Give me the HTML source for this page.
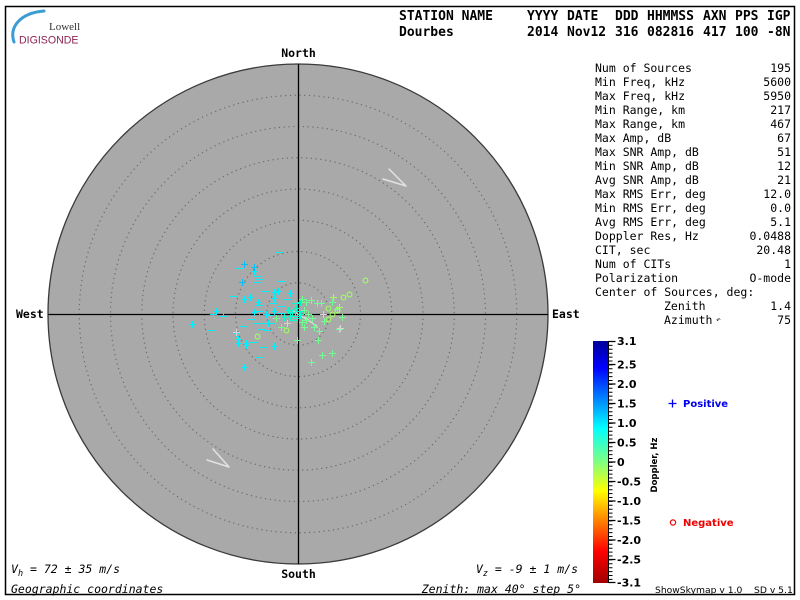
<!DOCTYPE html>
<html>
<head>
<meta charset="utf-8">
<style>
html,body{margin:0;padding:0;background:#fff;}
body{width:800px;height:600px;overflow:hidden;}
svg{display:block;}
.mono{font-family:"DejaVu Sans Mono","Liberation Mono",monospace;}
.sans{font-family:"DejaVu Sans","Liberation Sans",sans-serif;}
</style>
</head>
<body>
<svg width="800" height="600" viewBox="0 0 800 600" xmlns="http://www.w3.org/2000/svg">
<defs>
  <linearGradient id="jet" x1="0" y1="0" x2="0" y2="1">
    <stop offset="0" stop-color="#000098"/>
    <stop offset="0.11" stop-color="#0000ff"/>
    <stop offset="0.36" stop-color="#00ffff"/>
    <stop offset="0.5" stop-color="#80ff80"/>
    <stop offset="0.62" stop-color="#ffff00"/>
    <stop offset="0.87" stop-color="#ff0000"/>
    <stop offset="1" stop-color="#a00000"/>
  </linearGradient>
</defs>

<!-- frame -->
<rect x="5.5" y="6.5" width="789" height="588" fill="none" stroke="#000" stroke-width="1.5"/>

<!-- logo -->
<path d="M14,42 C9,27 20,13 44,11" fill="none" stroke="#3d9cd2" stroke-width="3" stroke-linecap="round"/>
<text x="49" y="30" font-family="Liberation Serif, serif" font-size="11" fill="#333">Lowell</text>
<text x="19" y="43.5" font-family="Liberation Sans, sans-serif" font-size="10.6" fill="#8c2452">DIGISONDE</text>

<!-- header -->
<g class="mono" font-weight="bold" font-size="13" fill="#000">
  <text x="399" y="20">STATION NAME</text>
  <text x="527" y="20">YYYY</text>
  <text x="567" y="20">DATE</text>
  <text x="615" y="20">DDD</text>
  <text x="647" y="20">HHMMSS</text>
  <text x="703" y="20">AXN</text>
  <text x="735" y="20">PPS</text>
  <text x="767" y="20">IGP</text>
  <text x="399" y="36">Dourbes</text>
  <text x="527" y="36">2014</text>
  <text x="567" y="36">Nov12</text>
  <text x="615" y="36">316</text>
  <text x="647" y="36">082816</text>
  <text x="703" y="36">417</text>
  <text x="735" y="36">100</text>
  <text x="767" y="36">-8N</text>
</g>

<!-- disk -->
<circle cx="298" cy="314" r="250" fill="#a9a9a9" stroke="#3a3a3a" stroke-width="1.3"/>
<g fill="none" stroke="#6a6a6a" stroke-width="1.2" stroke-dasharray="1.2 3.6">
  <circle cx="298" cy="314" r="31.25"/>
  <circle cx="298" cy="314" r="62.5"/>
  <circle cx="298" cy="314" r="93.75"/>
  <circle cx="298" cy="314" r="125"/>
  <circle cx="298" cy="314" r="156.25"/>
  <circle cx="298" cy="314" r="187.5"/>
  <circle cx="298" cy="314" r="218.75"/>
</g>
<line x1="298.5" y1="64" x2="298.5" y2="564" stroke="#000" stroke-width="1.3"/>
<line x1="48" y1="314.5" x2="548" y2="314.5" stroke="#000" stroke-width="1.3"/>

<!-- compass labels -->
<g class="mono" font-weight="bold" font-size="11.5" fill="#000">
  <text x="298.5" y="57" text-anchor="middle">North</text>
  <text x="298.5" y="578" text-anchor="middle">South</text>
  <text x="16" y="318">West</text>
  <text x="552" y="318">East</text>
</g>

<!-- velocity arrows -->
<g stroke="#e2e2e2" stroke-width="1.5" fill="none" stroke-linecap="round">
  <path d="M389,169 L406,186 M383,179 L406,186"/>
  <path d="M213,449 L229,467 M207,460 L229,467"/>
  <path d="M293,311 L317,326 M305,317 L316,326" stroke="#dcdcdc" stroke-width="1.2"/>
</g>

<!-- data points -->
<g fill="none" stroke-width="1">
<path stroke="#00f0ff" d="M276,252.5h7M279.5,249v7M236,268.5h7M239.5,265v7M251,271.5h7M254.5,268v7M254,276.5h7M257.5,273v7M256,279.5h7M259.5,276v7M254,282.5h7M257.5,279v7M278,281.5h7M281.5,278v7M262,291.5h7M265.5,288v7M271,292.5h7M274.5,289v7M275,291.5h7M278.5,288v7M287,293.5h7M290.5,290v7M230,296.5h7M233.5,293v7M247,297.5h7M250.5,294v7M241,299.5h7M244.5,296v7M271,298.5h7M274.5,295v7M284,299.5h7M287.5,296v7M255,302.5h7M258.5,299v7M256,305.5h7M259.5,302v7M270,303.5h7M273.5,300v7M278,306.5h7M281.5,303v7M213,311.5h7M216.5,308v7M210,314.5h7M213.5,311v7M220,316.5h7M223.5,313v7M189,324.5h7M192.5,321v7M251,312.5h7M254.5,309v7M256,311.5h7M259.5,308v7M263,314.5h7M266.5,311v7M266,315.5h7M269.5,312v7M271,311.5h7M274.5,308v7M278,313.5h7M281.5,310v7M248,319.5h7M251.5,316v7M254,323.5h7M257.5,320v7M258,323.5h7M261.5,320v7M240,326.5h7M243.5,323v7M265,323.5h7M268.5,320v7M268,323.5h7M271.5,320v7M264,330.5h7M267.5,327v7M258,329.5h7M261.5,326v7M208,330.5h7M211.5,327v7M233,333.5h7M236.5,330v7M235,339.5h7M238.5,336v7M235,343.5h7M238.5,340v7M243,343.5h7M246.5,340v7M243,345.5h7M246.5,342v7M250,342.5h7M253.5,339v7M260,347.5h7M263.5,344v7M271,346.5h7M274.5,343v7M256,357.5h7M259.5,354v7M241,367.5h7M244.5,364v7"/>
<path stroke="#00c0ff" d="M241,264.5h7M244.5,261v7M251,267.5h7M254.5,264v7M239,282.5h7M242.5,279v7"/>
<path stroke="#00ffcc" d="M292,303.5h7M295.5,300v7M297,302.5h7M300.5,299v7M281,317.5h7M284.5,314v7M285,310.5h7M288.5,307v7M289,312.5h7M292.5,309v7M292,316.5h7M295.5,313v7M294,318.5h7M297.5,315v7M297,314.5h7M300.5,311v7M290,320.5h7M293.5,317v7M293,308.5h7M296.5,305v7M287,316.5h7M290.5,313v7M296,311.5h7M299.5,308v7"/>
<path stroke="#70ff90" d="M299,299.5h7M302.5,296v7M303,302.5h7M306.5,299v7M308,300.5h7M311.5,297v7M314,303.5h7M317.5,300v7M318,303.5h7M321.5,300v7M329,302.5h7M332.5,299v7M334,309.5h7M337.5,306v7M301,310.5h7M304.5,307v7M305,314.5h7M308.5,311v7M309,318.5h7M312.5,315v7M303,320.5h7M306.5,317v7M299,322.5h7M302.5,319v7M278,327.5h7M281.5,324v7M301,327.5h7M304.5,324v7M311,327.5h7M314.5,324v7M316,331.5h7M319.5,328v7M315,340.5h7M318.5,337v7M319,355.5h7M322.5,352v7M329,353.5h7M332.5,350v7M308,362.5h7M311.5,359v7M336,329.5h7M339.5,326v7M321,321.5h7M324.5,318v7M339,317.5h7M342.5,314v7M294,340.5h7M297.5,337v7M273,318.5h7M276.5,315v7"/>
<path stroke="#a0ff60" d="M330,297.5h7M333.5,294v7M336,307.5h7M339.5,304v7"/>
<path stroke="#d4d4d4" d="M233,332.5h7M236.5,329v7M337,328.5h7M340.5,325v7M320,314.5h7M323.5,311v7M284,323.5h7M287.5,320v7"/>
<g stroke="#a0ff60" stroke-width="1.1">
<circle cx="257.5" cy="336.5" r="2.4"/>
<circle cx="286.5" cy="330.5" r="2.4"/>
<circle cx="328.5" cy="319.5" r="2.4"/>
<circle cx="332.5" cy="314.5" r="2.4"/>
<circle cx="337.5" cy="310.5" r="2.4"/>
<circle cx="328.5" cy="308.5" r="2.4"/>
<circle cx="343.5" cy="297.5" r="2.4"/>
<circle cx="349.5" cy="294.5" r="2.4"/>
<circle cx="365.5" cy="280.5" r="2.4"/>
</g>
</g>

<!-- stats panel -->
<g class="mono" font-size="11.5" fill="#000">
  <text x="595" y="72">Num of Sources</text><text x="791" y="72" text-anchor="end">195</text>
  <text x="595" y="86">Min Freq, kHz</text><text x="791" y="86" text-anchor="end">5600</text>
  <text x="595" y="100">Max Freq, kHz</text><text x="791" y="100" text-anchor="end">5950</text>
  <text x="595" y="114">Min Range, km</text><text x="791" y="114" text-anchor="end">217</text>
  <text x="595" y="128">Max Range, km</text><text x="791" y="128" text-anchor="end">467</text>
  <text x="595" y="142">Max Amp, dB</text><text x="791" y="142" text-anchor="end">67</text>
  <text x="595" y="156">Max SNR Amp, dB</text><text x="791" y="156" text-anchor="end">51</text>
  <text x="595" y="170">Min SNR Amp, dB</text><text x="791" y="170" text-anchor="end">12</text>
  <text x="595" y="184">Avg SNR Amp, dB</text><text x="791" y="184" text-anchor="end">21</text>
  <text x="595" y="198">Max RMS Err, deg</text><text x="791" y="198" text-anchor="end">12.0</text>
  <text x="595" y="212">Min RMS Err, deg</text><text x="791" y="212" text-anchor="end">0.0</text>
  <text x="595" y="226">Avg RMS Err, deg</text><text x="791" y="226" text-anchor="end">5.1</text>
  <text x="595" y="240">Doppler Res, Hz</text><text x="791" y="240" text-anchor="end">0.0488</text>
  <text x="595" y="254">CIT, sec</text><text x="791" y="254" text-anchor="end">20.48</text>
  <text x="595" y="268">Num of CITs</text><text x="791" y="268" text-anchor="end">1</text>
  <text x="595" y="282">Polarization</text><text x="791" y="282" text-anchor="end">O-mode</text>
  <text x="595" y="296">Center of Sources, deg:</text>
  <text x="664" y="310">Zenith</text><text x="791" y="310" text-anchor="end">1.4</text>
  <text x="664" y="324">Azimuth</text><text x="791" y="324" text-anchor="end">75</text>
  <text x="716" y="322" font-size="7.5">↶</text>
</g>

<!-- colorbar -->
<rect x="593" y="341" width="15" height="242" fill="url(#jet)"/>
<line x1="608.5" y1="341" x2="608.5" y2="583" stroke="#000" stroke-width="1"/>
<path stroke="#000" stroke-width="1" fill="none" d="M608.5,341.5h4m-4,3.9h4m-4,3.9h4m-4,3.9h4m-4,3.9h4m-4,3.9h4m-4,3.9h4m-4,3.9h4m-4,3.9h4m-4,3.9h4m-4,3.9h4m-4,3.9h4m-4,3.9h4m-4,3.9h4m-4,3.9h4m-4,3.9h4m-4,3.9h4m-4,3.9h4m-4,3.9h4m-4,3.9h4m-4,3.9h4m-4,3.9h4m-4,3.9h4m-4,3.9h4m-4,3.9h4m-4,3.9h4m-4,3.9h4m-4,3.9h4m-4,3.9h4m-4,3.9h4m-4,3.9h4m-4,3.9h4m-4,3.9h4m-4,3.9h4m-4,3.9h4m-4,3.9h4m-4,3.9h4m-4,3.9h4m-4,3.9h4m-4,3.9h4m-4,3.9h4m-4,3.9h4m-4,3.9h4m-4,3.9h4m-4,3.9h4m-4,3.9h4m-4,3.9h4m-4,3.9h4m-4,3.9h4m-4,3.9h4m-4,3.9h4m-4,3.9h4m-4,3.9h4m-4,3.9h4m-4,3.9h4m-4,3.9h4m-4,3.9h4m-4,3.9h4m-4,3.9h4m-4,3.9h4m-4,3.9h4m-4,3.9h4"/>
<path stroke="#000" stroke-width="1.2" fill="none" d="M608.5,341.5h7M608.5,364.5h7M608.5,384h7M608.5,403.5h7M608.5,423h7M608.5,442.5h7M608.5,462h7M608.5,481.5h7M608.5,501h7M608.5,520.5h7M608.5,540h7M608.5,559.5h7M608.5,582.5h7"/>
<g class="sans" font-weight="bold" font-size="11" fill="#000">
  <text x="617" y="345">3.1</text>
  <text x="617" y="368.5">2.5</text>
  <text x="617" y="388">2.0</text>
  <text x="617" y="407.5">1.5</text>
  <text x="617" y="427">1.0</text>
  <text x="617" y="446.5">0.5</text>
  <text x="617" y="466">0</text>
  <text x="617" y="485.5">-0.5</text>
  <text x="617" y="505">-1.0</text>
  <text x="617" y="524.5">-1.5</text>
  <text x="617" y="544">-2.0</text>
  <text x="617" y="563.5">-2.5</text>
  <text x="617" y="586.5">-3.1</text>
</g>
<text class="sans" font-weight="bold" font-size="8.5" fill="#000" text-anchor="middle" transform="translate(657,465) rotate(-90)">Doppler, Hz</text>

<!-- legend -->
<path d="M668.5,403.5h8M672.5,399.5v8" stroke="#0000ee" stroke-width="1.3"/>
<text class="sans" x="683" y="407" font-weight="bold" font-size="10" fill="#0000ee">Positive</text>
<circle cx="673" cy="522.5" r="2.6" fill="none" stroke="#ee0000" stroke-width="1.2"/>
<text class="sans" x="683" y="526" font-weight="bold" font-size="10" fill="#ee0000">Negative</text>

<text class="sans" x="655" y="593" font-size="9.2" fill="#000">ShowSkymap v 1.0</text>
<text class="sans" x="754" y="593" font-size="9.2" fill="#000">SD v 5.1</text>

<!-- bottom annotations -->
<g class="mono" font-style="italic" font-size="11.5" fill="#000">
  <text x="11" y="573">V<tspan font-size="8.5" dy="3">h</tspan><tspan dy="-3"> = 72 ± 35 m/s</tspan></text>
  <text x="11" y="593">Geographic coordinates</text>
  <text x="578" y="573" text-anchor="end">V<tspan font-size="8.5" dy="3">z</tspan><tspan dy="-3"> = -9 ± 1 m/s</tspan></text>
  <text x="581" y="593" text-anchor="end">Zenith: max 40°  step 5°</text>
</g>
</svg>
</body>
</html>
